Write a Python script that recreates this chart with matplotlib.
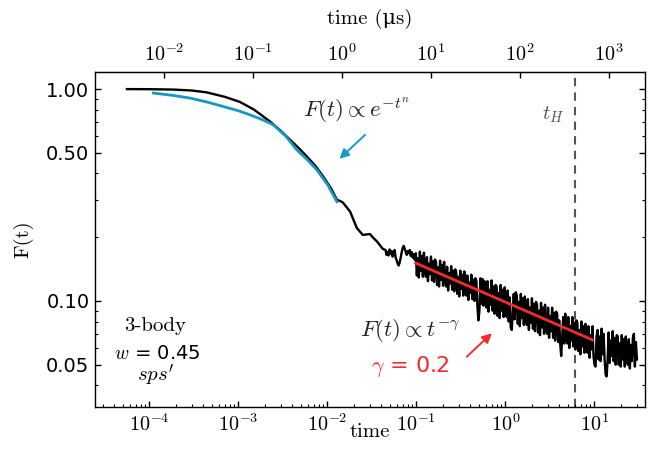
import numpy as np
import matplotlib
matplotlib.use("Agg")
import matplotlib.pyplot as plt
from matplotlib.ticker import (FixedLocator, FormatStrFormatter, FuncFormatter,
                               LogLocator, NullFormatter, NullLocator)

plt.rcParams['mathtext.fontset'] = 'cm'

# smooth early part of F(t)
t_early = [5.6e-5, 1.0e-4, 1.85e-4, 3.0e-4, 4.4e-4, 7.0e-4, 1.04e-3, 1.5e-3, 2.27e-3,
           3.0e-3, 3.81e-3, 4.8e-3, 5.87e-3, 7.3e-3, 9.0e-3, 1.1e-2, 1.28e-2, 1.4e-2,
           1.5e-2, 1.8e-2, 2.14e-2, 2.5e-2, 3.0e-2, 3.3e-2, 3.6e-2, 4.2e-2]
F_early = [1.000, 0.999, 0.995, 0.985, 0.965, 0.920, 0.870, 0.800, 0.703,
           0.635, 0.576, 0.525, 0.481, 0.435, 0.386, 0.340, 0.300, 0.296,
           0.291, 0.264, 0.221, 0.205, 0.207, 0.198, 0.191, 0.176]

# noisy late part, 250 log-spaced samples from 0.045 to 30
t_late = np.logspace(np.log10(0.045), np.log10(30), 250)
F_late = [
    0.174, 0.165, 0.170, 0.164, 0.175, 0.167, 0.172, 0.162, 0.169, 0.174,
    0.160, 0.156, 0.150, 0.147, 0.152, 0.160, 0.170, 0.178, 0.182, 0.176,
    0.170, 0.165, 0.172, 0.168, 0.174, 0.163, 0.170, 0.160, 0.166, 0.156,
    0.168, 0.132, 0.159, 0.129, 0.171, 0.139, 0.163, 0.130, 0.169, 0.142,
    0.130, 0.161, 0.124, 0.150, 0.134, 0.162, 0.125, 0.154, 0.123, 0.157,
    0.152, 0.119, 0.144, 0.117, 0.155, 0.126, 0.148, 0.118, 0.153, 0.129,
    0.117, 0.145, 0.112, 0.135, 0.121, 0.146, 0.113, 0.139, 0.111, 0.141,
    0.137, 0.108, 0.130, 0.105, 0.139, 0.114, 0.133, 0.106, 0.138, 0.116,
    0.106, 0.132, 0.101, 0.122, 0.109, 0.133, 0.102, 0.126, 0.100, 0.128,
    0.124, 0.094, 0.081, 0.090, 0.128, 0.097, 0.127, 0.095, 0.124, 0.100,
    0.093, 0.124, 0.089, 0.113, 0.096, 0.125, 0.090, 0.117, 0.087, 0.119,
    0.117, 0.085, 0.109, 0.083, 0.119, 0.090, 0.113, 0.084, 0.116, 0.092,
    0.084, 0.112, 0.080, 0.104, 0.075, 0.073, 0.087, 0.108, 0.082, 0.110,
    0.106, 0.078, 0.099, 0.076, 0.108, 0.083, 0.103, 0.077, 0.105, 0.084,
    0.077, 0.102, 0.073, 0.093, 0.079, 0.103, 0.074, 0.097, 0.072, 0.099,
    0.096, 0.071, 0.090, 0.069, 0.098, 0.075, 0.093, 0.070, 0.096, 0.076,
    0.070, 0.093, 0.067, 0.085, 0.072, 0.093, 0.067, 0.088, 0.065, 0.089,
    0.087, 0.064, 0.081, 0.063, 0.055, 0.068, 0.084, 0.063, 0.087, 0.069,
    0.063, 0.084, 0.060, 0.076, 0.065, 0.084, 0.061, 0.079, 0.059, 0.081,
    0.079, 0.058, 0.073, 0.056, 0.080, 0.061, 0.076, 0.057, 0.078, 0.063,
    0.057, 0.076, 0.054, 0.069, 0.059, 0.076, 0.055, 0.050, 0.049, 0.068,
    0.073, 0.053, 0.068, 0.052, 0.074, 0.056, 0.070, 0.053, 0.045, 0.044,
    0.053, 0.071, 0.051, 0.065, 0.055, 0.072, 0.052, 0.067, 0.050, 0.069,
    0.068, 0.050, 0.063, 0.049, 0.069, 0.053, 0.066, 0.049, 0.068, 0.054,
    0.050, 0.066, 0.048, 0.062, 0.052, 0.067, 0.070, 0.049, 0.064, 0.053,
]

# stretched exponential fit (blue)
t_fit1 = [1.11e-4, 1.8e-4, 2.86e-4, 4.4e-4, 6.73e-4, 1.0e-3, 1.35e-3, 1.85e-3,
          2.47e-3, 3.4e-3, 4.53e-3, 6.0e-3, 7.6e-3, 1.0e-2, 1.28e-2]
F_fit1 = [0.958, 0.935, 0.907, 0.870, 0.828, 0.790, 0.756, 0.718,
          0.678, 0.600, 0.517, 0.462, 0.416, 0.355, 0.294]

# power law fit (red)
t_fit2 = [0.098, 9.5]
F_fit2 = [0.151, 0.0655]

t_H = 6.0
us_per_unit = 69.0

blue = '#1399c6'
red = '#f52a2a'

fig = plt.figure(figsize=(6.52, 4.66), dpi=100)
ax = fig.add_axes([0.1457, 0.1273, 0.8436, 0.7175])

t_all = np.concatenate([t_early, t_late])
F_all = np.concatenate([F_early, F_late])
ax.plot(t_all, F_all, color='black', lw=1.7, zorder=2)
ax.plot(t_fit1, F_fit1, color=blue, lw=2.0, zorder=3)
ax.plot(t_fit2, F_fit2, color=red, lw=2.0, zorder=3)
ax.axvline(t_H, color='#555555', lw=1.5, ls=(0, (4, 3)), zorder=1)

ax.set_xscale('log')
ax.set_yscale('log')
ax.set_xlim(2.45e-5, 37)
ax.set_ylim(0.0317, 1.20)

pow10 = FuncFormatter(lambda v, p: r'$10^{%d}$' % round(np.log10(v)))

ax.xaxis.set_major_locator(FixedLocator([1e-4, 1e-3, 1e-2, 1e-1, 1e0, 1e1]))
ax.xaxis.set_major_formatter(pow10)
ax.xaxis.set_minor_locator(LogLocator(base=10, subs=np.arange(2, 10)))
ax.xaxis.set_minor_formatter(NullFormatter())
ax.yaxis.set_major_locator(FixedLocator([0.05, 0.1, 0.5, 1.0]))
ax.yaxis.set_major_formatter(FormatStrFormatter('%.2f'))
ax.yaxis.set_minor_locator(LogLocator(base=10, subs=np.arange(2, 10)))
ax.yaxis.set_minor_formatter(NullFormatter())

ax.tick_params(which='both', direction='in', top=False, right=True)
ax.tick_params(axis='x', labelsize=14.5, pad=5)
ax.tick_params(axis='y', labelsize=14, pad=4)
ax.tick_params(which='major', length=4, width=1)
ax.tick_params(which='minor', length=2, width=0.8)
for s in ax.spines.values():
    s.set_linewidth(1.0)

ax.set_xlabel('time', fontsize=15, family='cmr10', labelpad=-9)
ax.set_ylabel('F(t)', fontsize=15, family='cmr10', labelpad=9)

top = ax.secondary_xaxis('top', functions=(lambda t: t * us_per_unit,
                                           lambda u: u / us_per_unit))
top.set_xscale('log')
top.xaxis.set_major_locator(FixedLocator([1e-2, 1e-1, 1e0, 1e1, 1e2, 1e3]))
top.xaxis.set_major_formatter(pow10)
top.xaxis.set_minor_locator(NullLocator())
top.tick_params(which='major', direction='in', length=4, width=1, labelsize=14.5, pad=5)
top.set_xlabel('time (μs)', fontsize=15, family=['cmr10', 'DejaVu Serif'], labelpad=14)

# annotations
ax.text(0.0215, 0.79, r'$F(t) \propto e^{-t^n}$', fontsize=16.5, color='#222222',
        ha='center', va='center')
ax.annotate('', xy=(0.01365, 0.469), xytext=(0.0265, 0.608),
            arrowprops=dict(arrowstyle='-|>', color=blue, lw=1.4,
                            mutation_scale=14, shrinkA=0, shrinkB=0))
ax.text(0.085, 0.0729, r'$F(t) \propto t^{-\gamma}$', fontsize=16.5, color='#222222',
        ha='center', va='center')
ax.text(0.0853, 0.0489, r'$\gamma$ = 0.2', fontsize=16, color=red,
        ha='center', va='center')
ax.annotate('', xy=(0.703, 0.0704), xytext=(0.368, 0.0546),
            arrowprops=dict(arrowstyle='-|>', color=red, lw=1.4,
                            mutation_scale=14, shrinkA=0, shrinkB=0))
ax.text(3.4, 0.755, r'$t_H$', fontsize=15, color='#555555', ha='center', va='center')

ax.text(1.16e-4, 0.0762, '3-body', fontsize=15, family='cmr10', ha='center', va='center')
ax.text(1.21e-4, 0.0568, r'$w$ = 0.45', fontsize=14, ha='center', va='center')
ax.text(1.16e-4, 0.0447, r"$sps'$", fontsize=15, ha='center', va='center')

fig.savefig('out.png', dpi=100)
